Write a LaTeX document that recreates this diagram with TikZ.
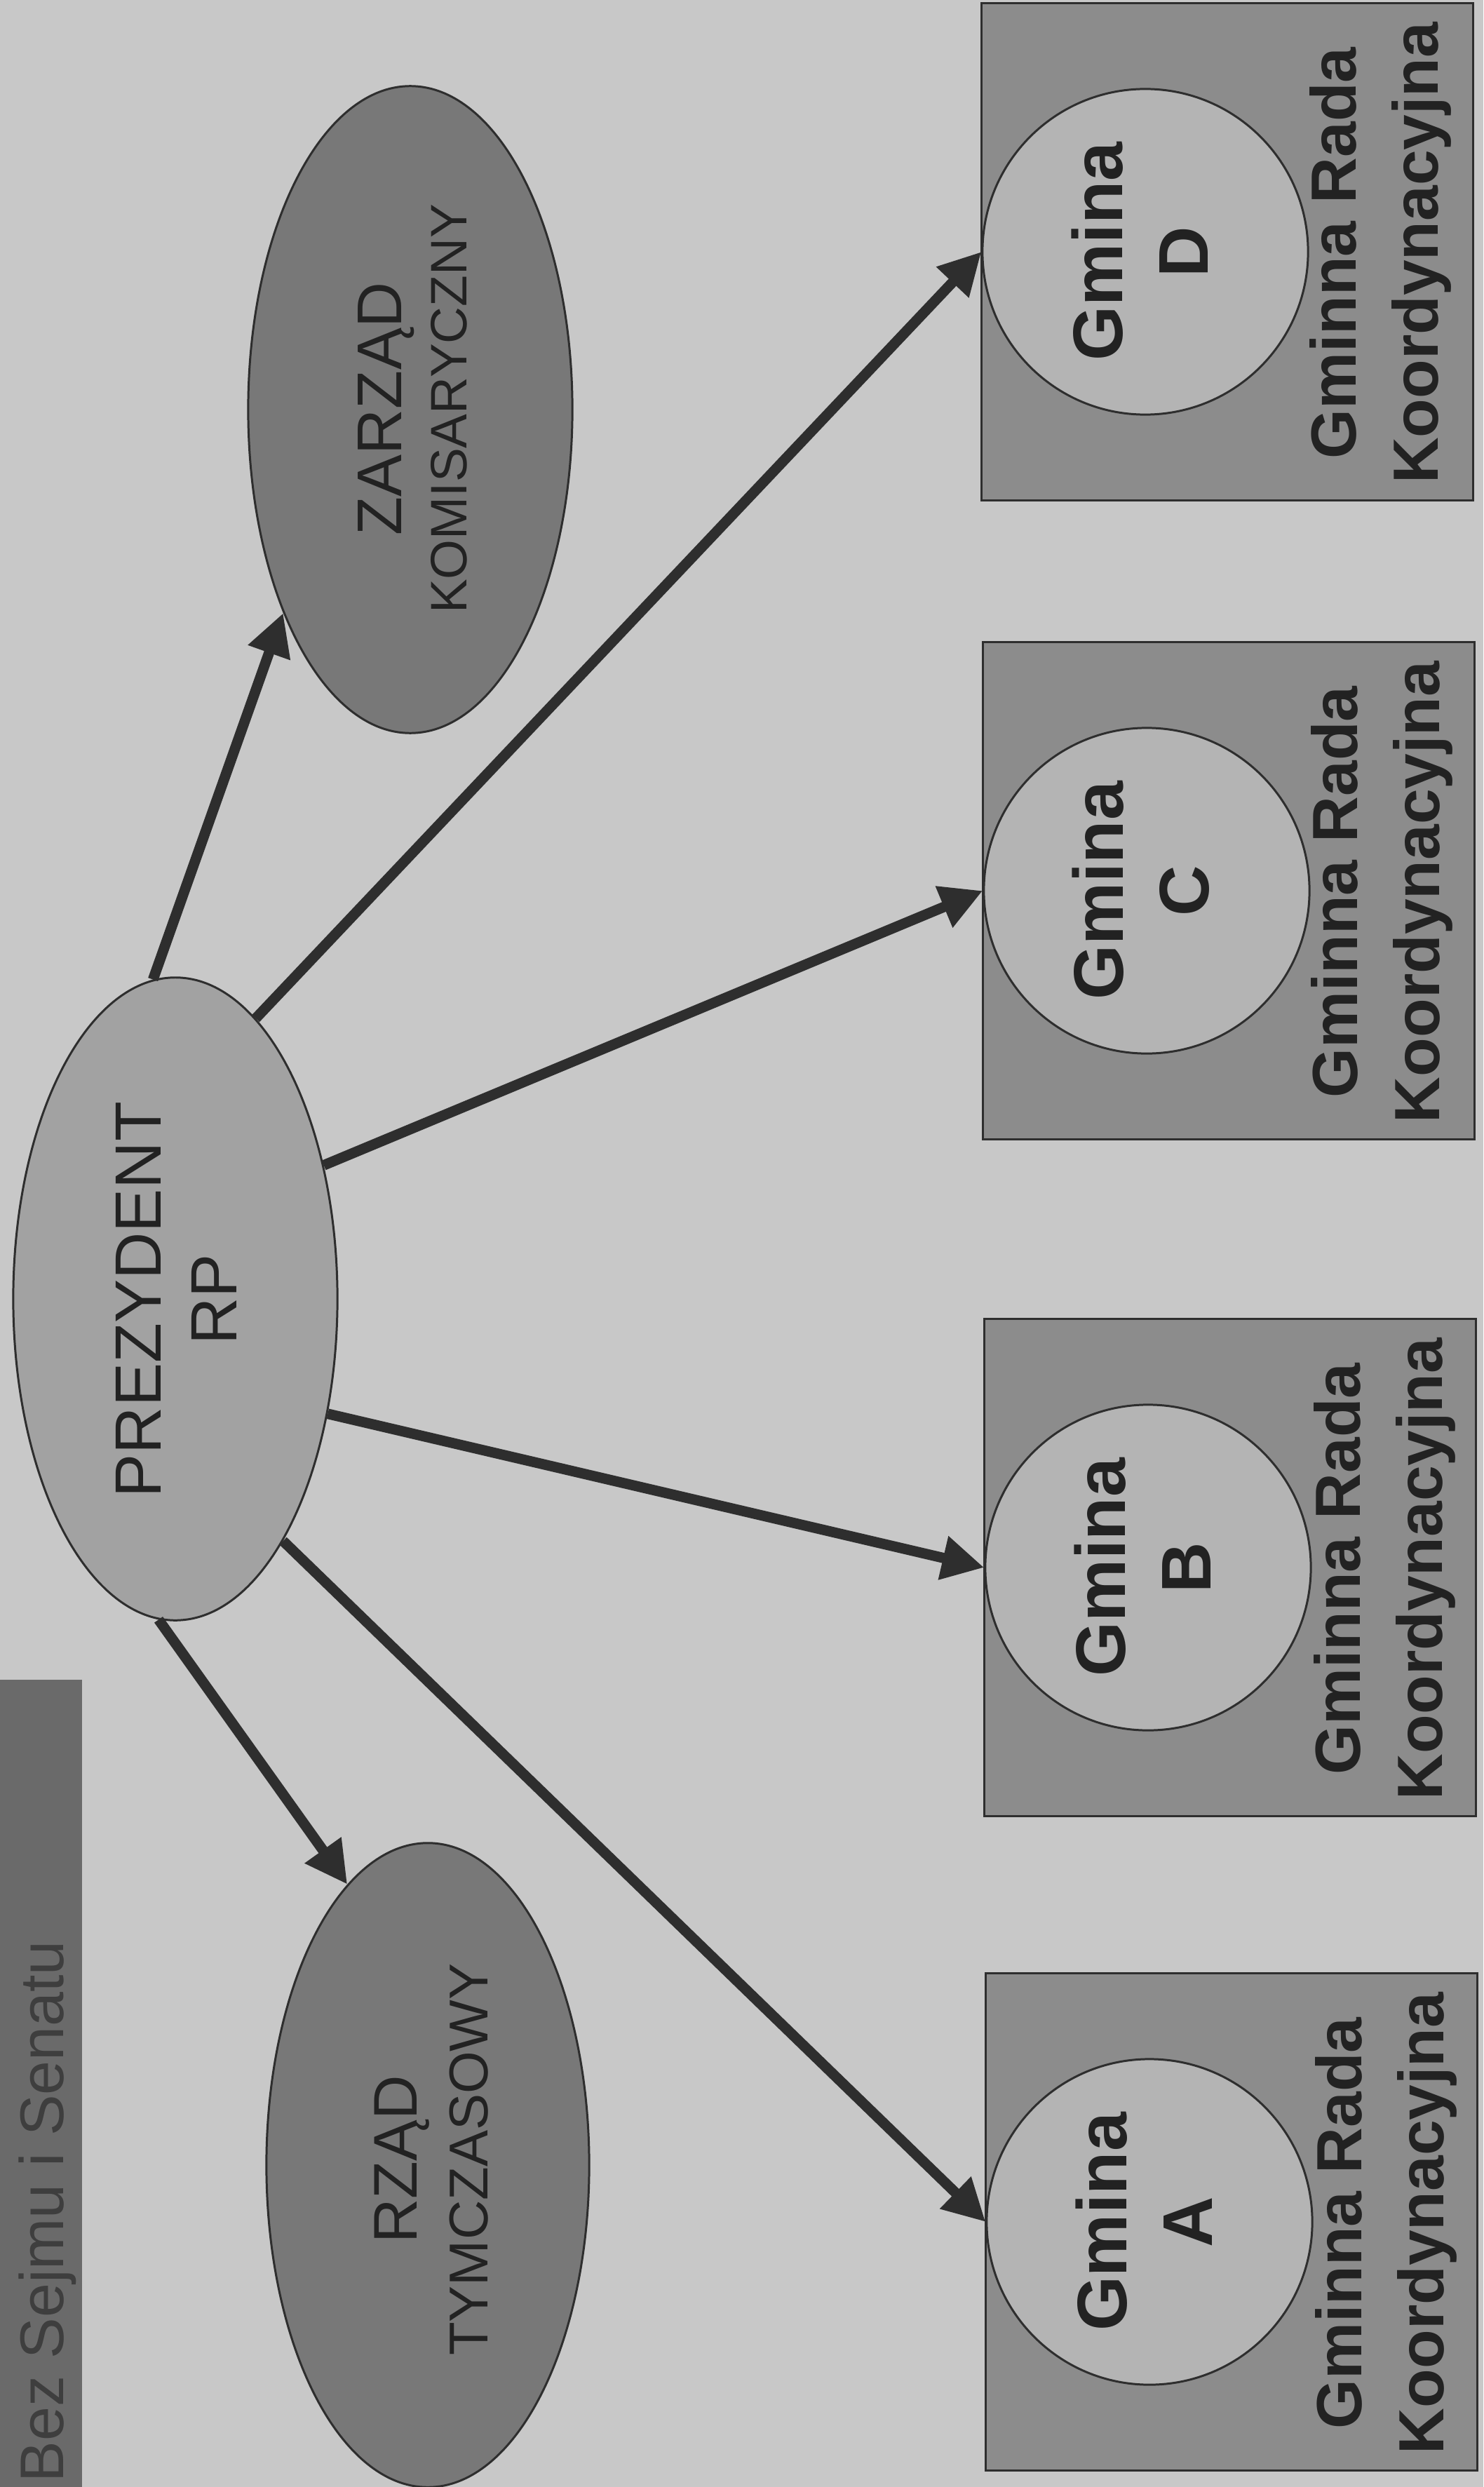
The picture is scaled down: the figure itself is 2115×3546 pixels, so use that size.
\documentclass[tikz,border=0pt]{standalone}
\usepackage{fontspec}
\setmainfont{Liberation Sans}
\usetikzlibrary{shapes.geometric, arrows.meta}
\definecolor{bg}{HTML}{C8C8C8}
\definecolor{darkell}{HTML}{787878}
\definecolor{prezfill}{HTML}{A2A2A2}
\definecolor{boxfill}{HTML}{8C8C8C}
\definecolor{circfill}{HTML}{B4B4B4}
\definecolor{titlefill}{HTML}{6A6A6A}
\definecolor{linecol}{HTML}{2E2E2E}
\definecolor{txt}{HTML}{222222}
\definecolor{titletxt}{HTML}{3E3E3E}
\begin{document}
\begin{tikzpicture}[x=0.01cm, y=-0.01cm,
  ell/.style={ellipse, draw=linecol, line width=0.85pt, inner sep=0pt},
  gbox/.style={rectangle, draw=linecol, line width=0.85pt, fill=boxfill, minimum width=7cm, minimum height=7.08cm, inner sep=0pt},
  gcirc/.style={circle, draw=linecol, line width=0.85pt, fill=circfill, minimum size=4.64cm, inner sep=0pt},
  rtxt/.style={rotate=90, align=center, text=txt, inner sep=0pt},
  gtxt/.style={rtxt, font=\bfseries\fontsize{28.5}{34.7}\selectfont},
  rtxtb/.style={rtxt, font=\bfseries\fontsize{25.9}{33.3}\selectfont},
  conn/.style={draw=linecol, line width=4.2pt, -{Triangle[length=0.6cm, width=0.6cm]}}
]
\useasboundingbox (0,0) rectangle (2115,3546);
\fill[bg] (0,0) rectangle (2115,3546);

% title
\node[rectangle, fill=titlefill, minimum width=1.17cm, minimum height=11.51cm, inner sep=0pt] (title) at (58.5,2970.5) {};
\node[rotate=90, anchor=base west, inner sep=0pt, text=titletxt, font=\fontsize{25}{30}\selectfont] (titletext) at (90,3540) {Bez Sejmu i Senatu};

% ellipses
\node[ell, fill=prezfill, minimum width=4.62cm, minimum height=9.16cm] (prez) at (250,1852) {};
\node[ell, fill=darkell, minimum width=4.62cm, minimum height=9.22cm] (zarzad) at (585,584) {};
\node[ell, fill=darkell, minimum width=4.6cm, minimum height=9.18cm] (rzad) at (610,3087) {};

\node[rtxt, font=\fontsize{26.5}{30.7}\selectfont] (prezt) at (251,1853) {PREZYDENT\\RP};
\node[rtxt, font=\fontsize{20.8}{26.5}\selectfont] (zarzadt) at (588,583) {{\fontsize{25.6}{26.5}\selectfont ZARZĄD}\\KOMISARYCZNY};
\node[rtxt, font=\fontsize{22.2}{28.6}\selectfont] (rzadt) at (615,3079) {{\fontsize{25}{28.6}\selectfont RZĄD}\\TYMCZASOWY};

% gmina boxes
\node[gbox] (boxD) at (1750,359) {};
\node[gbox] (boxC) at (1752,1270) {};
\node[gbox] (boxB) at (1754,2235) {};
\node[gbox] (boxA) at (1756,3168) {};

\node[gcirc] (gD) at (1633,359) {};
\node[gcirc] (gC) at (1635,1270) {};
\node[gcirc] (gB) at (1637,2235) {};
\node[gcirc] (gA) at (1639,3168) {};

\node[gtxt] (gDt) at (1625,359) {Gmina\\D};
\node[gtxt] (gCt) at (1627,1270) {Gmina\\C};
\node[gtxt] (gBt) at (1629,2235) {Gmina\\B};
\node[gtxt] (gAt) at (1631,3168) {Gmina\\A};

\node[rtxtb] (rD) at (1968,361) {Gminna Rada\\Koordynacyjna};
\node[rtxtb] (rC) at (1970,1272) {Gminna Rada\\Koordynacyjna};
\node[rtxtb] (rB) at (1974,2237) {Gminna Rada\\Koordynacyjna};
\node[rtxtb] (rA) at (1976,3170) {Gminna Rada\\Koordynacyjna};

% connectors
\draw[conn] (prez.94.4) -- (zarzad.238.7);
\draw[conn] (prez.74.5) -- (gD.west);
\draw[conn] (prez.42.1) -- (gC.west);
\draw[conn] (prez.-37.6) -- (gB.west);
\draw[conn] (prez.-66.9) -- (gA.west);
\draw[conn] (prez.-93) -- (rzad.106.9);
\end{tikzpicture}
\end{document}
